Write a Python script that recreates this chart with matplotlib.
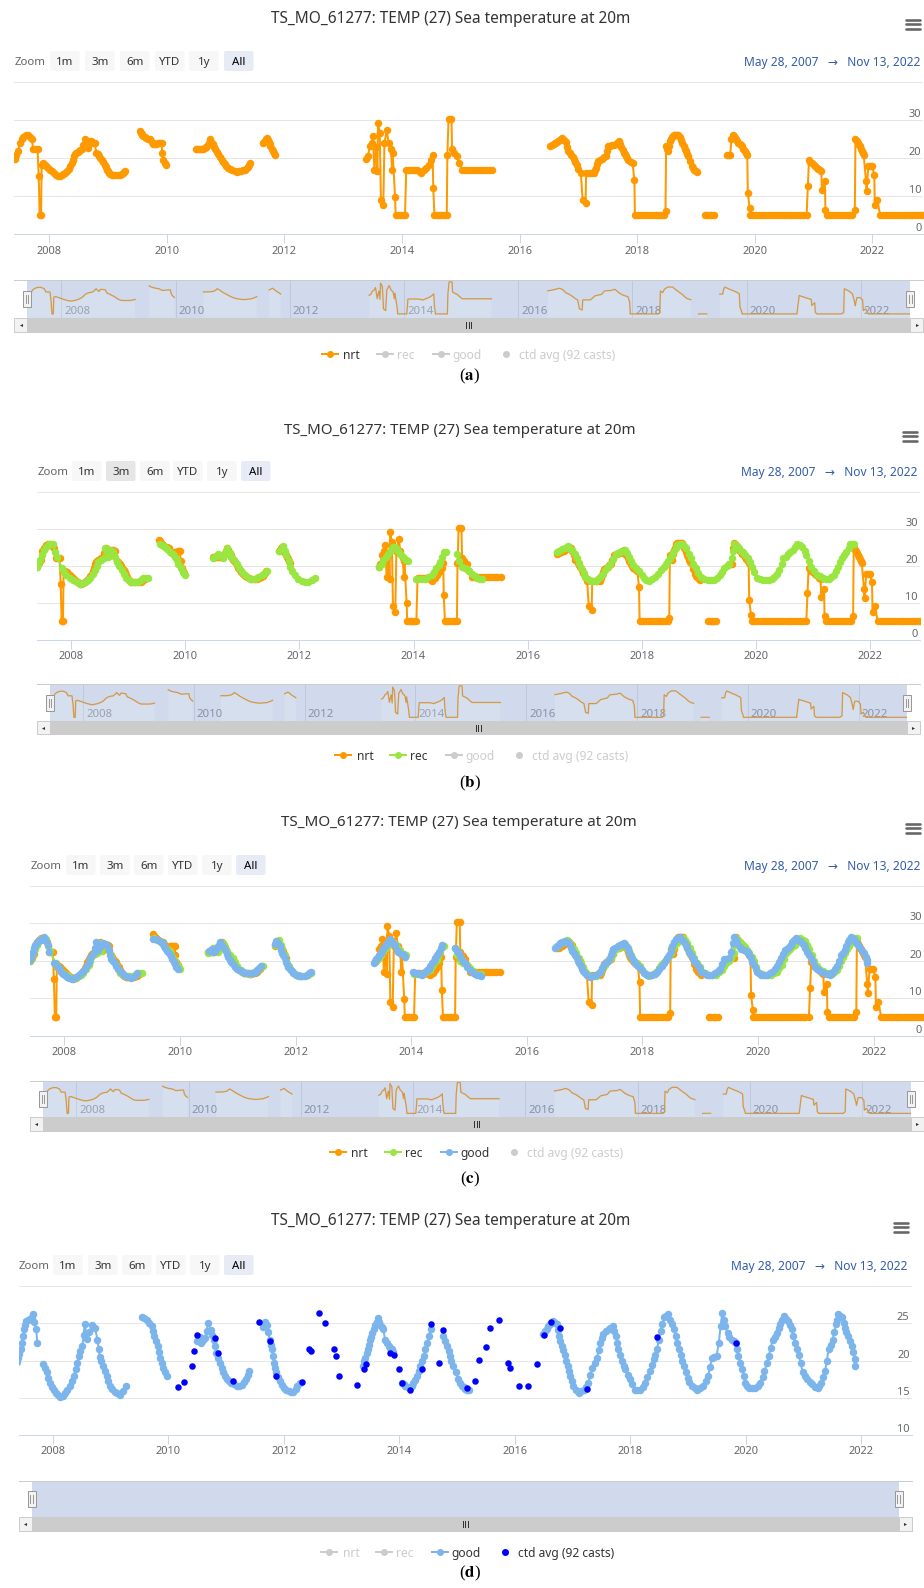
import matplotlib
matplotlib.use('Agg')
import numpy as np
from matplotlib import pyplot as plt
from matplotlib import transforms
from matplotlib.patches import Rectangle, FancyBboxPatch

W, H = 924, 1588
plt.rcParams['font.family'] = ['Noto Sans', 'DejaVu Sans']
plt.rcParams['mathtext.fontset'] = 'stix'

START = 2007.403   # May 28, 2007
END = 2022.866     # Nov 13, 2022
YEARS = [2008, 2010, 2012, 2014, 2016, 2018, 2020, 2022]
TITLE = 'TS_MO_61277: TEMP (27) Sea temperature at 20m'
DATE_RANGE = 'May 28, 2007   \u2192   Nov 13, 2022'
BUTTONS = ['1m', '3m', '6m', 'YTD', '1y', 'All']

# ---- series (decimal year, deg C) ----
nrt_2007 = [(2007.41, 19.8), (2007.44, 20.8), (2007.47, 21.8), (2007.50, 24.0), (2007.53, 25.0),
            (2007.56, 25.6), (2007.60, 26.0), (2007.64, 26.0), (2007.67, 25.5), (2007.70, 24.9),
            (2007.73, 22.3), (2007.77, 22.3), (2007.80, 22.3), (2007.82, 15.2), (2007.836, 5.1),
            (2007.86, 5.1), (2007.87, 18.3), (2007.90, 18.7), (2007.93, 18.3), (2007.95, 18.0),
            (2007.98, 17.5), (2008.01, 17.0), (2008.05, 16.5), (2008.08, 16.0), (2008.12, 15.6),
            (2008.15, 15.2), (2008.18, 15.3), (2008.21, 15.5), (2008.24, 15.8), (2008.27, 16.1),
            (2008.30, 16.6), (2008.33, 17.2), (2008.36, 18.0), (2008.38, 18.7), (2008.40, 19.6),
            (2008.42, 20.5), (2008.44, 21.0), (2008.46, 21.4), (2008.48, 21.7), (2008.50, 22.0),
            (2008.53, 22.1), (2008.55, 22.3), (2008.58, 23.5), (2008.61, 24.9), (2008.63, 23.8),
            (2008.66, 22.7), (2008.69, 24.5), (2008.71, 24.4), (2008.73, 24.3), (2008.75, 24.1),
            (2008.77, 24.0), (2008.80, 21.4), (2008.83, 21.0), (2008.85, 20.5), (2008.87, 20.0),
            (2008.89, 19.6), (2008.92, 18.9), (2008.94, 18.3), (2008.96, 17.6), (2008.98, 17.0),
            (2009.00, 16.6), (2009.02, 16.2), (2009.04, 15.9), (2009.06, 15.7), (2009.09, 15.7),
            (2009.12, 15.7), (2009.16, 15.7), (2009.20, 15.7), (2009.23, 15.8), (2009.25, 16.0),
            (2009.27, 16.3), (2009.29, 16.5)]
nrt_2009 = [(2009.54, 27.1), (2009.555, 26.7), (2009.57, 26.4), (2009.585, 26.1), (2009.60, 25.9),
            (2009.62, 25.6), (2009.65, 25.3), (2009.68, 25.1), (2009.71, 24.9), (2009.74, 24.2),
            (2009.77, 23.6), (2009.80, 23.7), (2009.82, 23.8), (2009.85, 23.9), (2009.87, 24.0),
            (2009.89, 24.0), (2009.91, 24.0), (2009.92, 21.4), (2009.94, 19.6), (2009.96, 18.8),
            (2009.98, 18.1)]
nrt_2010 = [(2010.49, 22.4), (2010.515, 22.4), (2010.54, 22.4), (2010.565, 22.4), (2010.59, 22.4),
            (2010.615, 22.5), (2010.64, 22.7), (2010.66, 22.9), (2010.68, 23.1), (2010.71, 24.0),
            (2010.73, 24.9), (2010.755, 24.3), (2010.78, 23.6), (2010.80, 22.9), (2010.82, 22.3),
            (2010.845, 21.6), (2010.87, 21.0), (2010.90, 20.3), (2010.93, 19.6), (2010.955, 19.0),
            (2010.98, 18.4), (2011.01, 17.9), (2011.04, 17.4), (2011.075, 17.1), (2011.11, 16.8),
            (2011.15, 16.6), (2011.19, 16.4), (2011.225, 16.5), (2011.26, 16.6), (2011.295, 16.8),
            (2011.33, 17.0), (2011.355, 17.4), (2011.38, 17.8), (2011.40, 18.2), (2011.42, 18.7)]
nrt_2011 = [(2011.64, 24.0), (2011.655, 24.3), (2011.67, 24.6), (2011.685, 25.0), (2011.70, 25.3),
            (2011.715, 24.8), (2011.73, 24.2), (2011.745, 23.6), (2011.76, 23.1), (2011.78, 22.5),
            (2011.80, 21.9), (2011.82, 21.3), (2011.84, 20.8)]
nrt_2013 = [(2013.39, 19.8), (2013.42, 20.5), (2013.45, 23.1), (2013.48, 24.0), (2013.50, 25.8),
            (2013.53, 17.0), (2013.56, 23.0), (2013.58, 16.5), (2013.59, 29.3), (2013.62, 26.6),
            (2013.64, 9.1), (2013.68, 7.7), (2013.70, 24.0), (2013.74, 27.3), (2013.77, 24.0),
            (2013.81, 22.3), (2013.83, 17.0), (2013.84, 21.4), (2013.88, 9.9), (2013.89, 5.1),
            (2013.93, 5.1), (2013.97, 5.1), (2014.01, 5.1), (2014.05, 5.1), (2014.07, 16.8),
            (2014.11, 16.8), (2014.16, 16.8), (2014.20, 16.8), (2014.25, 16.8), (2014.29, 16.5),
            (2014.33, 16.1), (2014.37, 16.8), (2014.41, 17.5), (2014.45, 18.3), (2014.49, 19.5),
            (2014.52, 20.9), (2014.53, 12.1), (2014.55, 5.1), (2014.59, 5.1), (2014.63, 5.1),
            (2014.67, 5.1), (2014.72, 5.1), (2014.76, 5.1), (2014.77, 20.9), (2014.79, 30.2),
            (2014.84, 30.2), (2014.85, 22.3), (2014.89, 21.3), (2014.93, 20.5), (2014.97, 18.8),
            (2015.02, 17.0), (2015.07, 17.0), (2015.12, 17.0), (2015.17, 17.0), (2015.22, 17.0),
            (2015.27, 17.0), (2015.32, 17.0), (2015.37, 17.0), (2015.42, 17.0), (2015.47, 17.0),
            (2015.53, 17.0)]
nrt_2016 = [(2016.52, 23.3), (2016.55, 23.5), (2016.58, 23.8), (2016.605, 24.0), (2016.63, 24.2),
            (2016.655, 24.5), (2016.68, 24.8), (2016.70, 25.1), (2016.72, 25.3), (2016.75, 24.8),
            (2016.78, 24.2), (2016.805, 23.0), (2016.83, 21.8), (2016.855, 21.3), (2016.88, 20.8),
            (2016.90, 20.3), (2016.92, 19.8), (2016.945, 18.9), (2016.97, 18.1), (2017.00, 17.1),
            (2017.04, 16.1), (2017.07, 9.1), (2017.12, 8.2), (2017.13, 16.1), (2017.18, 16.1),
            (2017.22, 16.1), (2017.26, 16.1), (2017.28, 16.8), (2017.30, 17.5), (2017.32, 18.4),
            (2017.34, 19.2), (2017.37, 19.6), (2017.40, 19.9), (2017.43, 20.2), (2017.46, 20.5),
            (2017.485, 21.8), (2017.51, 23.1), (2017.54, 23.3), (2017.57, 23.4), (2017.60, 23.5),
            (2017.63, 23.6), (2017.66, 24.0), (2017.69, 24.5), (2017.71, 23.8), (2017.73, 23.0),
            (2017.75, 22.2), (2017.77, 21.4), (2017.79, 21.0), (2017.81, 20.5), (2017.83, 20.0),
            (2017.85, 19.6), (2017.885, 19.1), (2017.92, 18.7), (2017.95, 14.3), (2017.96, 5.1),
            (2018.01, 5.1), (2018.06, 5.1), (2018.11, 5.1), (2018.16, 5.1), (2018.21, 5.1),
            (2018.26, 5.1), (2018.31, 5.1), (2018.36, 5.1), (2018.41, 5.1), (2018.45, 5.1),
            (2018.48, 6.0), (2018.49, 23.1), (2018.51, 22.4), (2018.53, 21.8), (2018.545, 23.2),
            (2018.56, 24.5), (2018.575, 25.0), (2018.59, 25.5), (2018.605, 25.9), (2018.62, 26.2),
            (2018.64, 26.2), (2018.66, 26.2), (2018.68, 26.2), (2018.70, 26.2), (2018.72, 25.5),
            (2018.74, 24.8), (2018.765, 23.9), (2018.79, 23.1), (2018.81, 22.4), (2018.83, 21.8),
            (2018.85, 21.1), (2018.87, 20.5), (2018.90, 19.2), (2018.93, 17.9), (2018.95, 17.4),
            (2018.97, 17.0), (2019.00, 16.6), (2019.02, 16.3)]
nrt_2019 = [(2019.16, 5.1), (2019.19, 5.1), (2019.23, 5.1), (2019.26, 5.1), (2019.30, 5.1)]
nrt_2020 = [(2019.53, 20.7), (2019.555, 20.7), (2019.58, 20.7), (2019.60, 24.9), (2019.62, 26.2),
            (2019.64, 25.7), (2019.66, 25.3), (2019.68, 24.9), (2019.70, 24.5), (2019.72, 24.1),
            (2019.74, 23.8), (2019.76, 23.4), (2019.78, 23.1), (2019.805, 22.5), (2019.83, 22.0),
            (2019.85, 21.4), (2019.87, 20.9), (2019.88, 10.8), (2019.91, 6.9), (2019.92, 5.1),
            (2019.97, 5.1), (2020.02, 5.1), (2020.07, 5.1), (2020.12, 5.1), (2020.17, 5.1),
            (2020.22, 5.1), (2020.27, 5.1), (2020.32, 5.1), (2020.37, 5.1), (2020.42, 5.1),
            (2020.47, 5.1), (2020.52, 5.1), (2020.57, 5.1), (2020.62, 5.1), (2020.67, 5.1),
            (2020.72, 5.1), (2020.77, 5.1), (2020.82, 5.1), (2020.88, 5.1), (2020.90, 12.6),
            (2020.92, 19.6), (2020.945, 19.1), (2020.97, 18.7), (2021.00, 18.3), (2021.03, 17.9),
            (2021.055, 17.5), (2021.08, 17.2), (2021.105, 16.8), (2021.13, 16.5), (2021.14, 11.7),
            (2021.19, 13.9), (2021.20, 6.4), (2021.23, 5.1), (2021.28, 5.1), (2021.33, 5.1),
            (2021.38, 5.1), (2021.43, 5.1), (2021.48, 5.1), (2021.53, 5.1), (2021.58, 5.1),
            (2021.62, 5.1), (2021.66, 5.1), (2021.70, 6.4), (2021.71, 24.9), (2021.73, 24.4),
            (2021.75, 24.0), (2021.77, 23.5), (2021.79, 23.1), (2021.805, 22.5), (2021.82, 22.0),
            (2021.835, 21.4), (2021.85, 20.9), (2021.89, 13.9), (2021.90, 11.5), (2021.93, 17.9),
            (2021.96, 17.9), (2021.99, 17.9), (2022.03, 15.7), (2022.04, 7.7), (2022.08, 9.1),
            (2022.13, 5.1), (2022.18, 5.1), (2022.23, 5.1), (2022.28, 5.1), (2022.33, 5.1),
            (2022.38, 5.1), (2022.43, 5.1), (2022.48, 5.1), (2022.53, 5.1), (2022.58, 5.1),
            (2022.63, 5.1), (2022.68, 5.1), (2022.73, 5.1), (2022.78, 5.1), (2022.83, 5.1),
            (2022.866, 5.1)]

rec_2007 = [(2007.40, 19.8), (2007.43, 20.6), (2007.46, 21.6), (2007.49, 23.0), (2007.52, 24.3),
            (2007.56, 25.2), (2007.60, 25.7), (2007.64, 25.9), (2007.68, 25.9), (2007.72, 23.9),
            (2007.75, 22.5), (2007.85, 19.4), (2007.88, 18.5), (2007.92, 17.6), (2007.98, 16.8),
            (2008.04, 16.2), (2008.10, 15.6), (2008.16, 15.3), (2008.21, 15.5), (2008.25, 15.8),
            (2008.29, 16.2), (2008.33, 16.7), (2008.38, 17.8), (2008.42, 18.9), (2008.45, 20.0),
            (2008.48, 21.2), (2008.53, 21.8), (2008.57, 22.1), (2008.60, 24.8), (2008.64, 22.5),
            (2008.68, 24.3), (2008.71, 24.2), (2008.74, 23.9), (2008.77, 22.6), (2008.80, 21.2),
            (2008.84, 20.0), (2008.89, 18.9), (2008.93, 17.8), (2008.97, 16.7), (2009.02, 16.2),
            (2009.06, 15.8), (2009.12, 15.8), (2009.18, 15.8), (2009.23, 16.2), (2009.27, 16.7),
            (2009.31, 16.8), (2009.35, 16.8)]
rec_2009 = [(2009.56, 26.1), (2009.60, 25.6), (2009.65, 25.2), (2009.69, 24.6), (2009.73, 23.9),
            (2009.78, 23.2), (2009.82, 22.5), (2009.85, 21.6), (2009.88, 20.7), (2009.92, 19.6),
            (2009.96, 18.5), (2010.00, 17.7)]
rec_2010 = [(2010.49, 22.1), (2010.54, 22.8), (2010.58, 23.4), (2010.62, 22.8), (2010.66, 22.3),
            (2010.70, 23.6), (2010.74, 24.8), (2010.78, 23.6), (2010.81, 22.5), (2010.86, 21.6),
            (2010.91, 20.7), (2010.95, 19.6), (2010.99, 18.5), (2011.05, 17.6), (2011.11, 16.8),
            (2011.16, 16.6), (2011.22, 16.5), (2011.28, 17.0), (2011.34, 17.6), (2011.39, 18.1),
            (2011.43, 18.7)]
rec_2011 = [(2011.65, 24.1), (2011.69, 24.8), (2011.72, 25.4), (2011.75, 24.2), (2011.77, 23.0),
            (2011.81, 21.4), (2011.84, 19.8), (2011.88, 18.7), (2011.92, 17.6), (2011.98, 16.6),
            (2012.04, 15.9), (2012.10, 15.8), (2012.16, 15.8), (2012.22, 16.2), (2012.27, 16.7)]
rec_2013 = [(2013.40, 19.8), (2013.44, 20.7), (2013.47, 21.6), (2013.52, 22.5), (2013.56, 23.4),
            (2013.60, 24.3), (2013.64, 25.2), (2013.67, 25.0), (2013.70, 24.8), (2013.73, 24.1),
            (2013.76, 23.4), (2013.80, 22.8), (2013.83, 22.1), (2013.87, 21.8), (2013.91, 21.4)]
rec_2014 = [(2014.05, 16.5), (2014.10, 16.5), (2014.15, 16.5), (2014.20, 16.5), (2014.26, 17.0),
            (2014.32, 17.6), (2014.36, 18.5), (2014.40, 19.4), (2014.44, 20.3), (2014.47, 21.2),
            (2014.50, 22.4), (2014.53, 23.7), (2014.56, 23.9)]
rec_2015 = [(2014.76, 23.4), (2014.80, 21.5), (2014.85, 19.8), (2014.90, 19.5), (2014.94, 19.2),
            (2014.98, 18.6), (2015.02, 18.0), (2015.07, 17.3), (2015.11, 16.7), (2015.16, 16.5),
            (2015.20, 16.4)]
rec_2016 = [(2016.51, 23.7), (2016.55, 24.2), (2016.60, 24.6), (2016.65, 25.0), (2016.70, 25.5),
            (2016.73, 24.9), (2016.77, 24.3), (2016.82, 23.2), (2016.86, 22.1), (2016.90, 20.8),
            (2016.94, 19.4), (2016.98, 18.2), (2017.01, 17.1), (2017.05, 16.5), (2017.10, 16.0),
            (2017.15, 16.0), (2017.19, 16.0), (2017.23, 16.5), (2017.27, 17.1), (2017.32, 18.0),
            (2017.36, 18.9), (2017.40, 19.8), (2017.45, 20.7), (2017.50, 22.0), (2017.54, 23.2),
            (2017.58, 23.5), (2017.62, 23.7), (2017.66, 24.1), (2017.70, 24.5), (2017.74, 23.5),
            (2017.77, 22.5), (2017.81, 21.4), (2017.84, 20.3), (2017.90, 19.4), (2017.95, 18.6),
            (2018.00, 17.6), (2018.04, 16.7), (2018.08, 16.3), (2018.12, 16.0), (2018.18, 16.5),
            (2018.23, 17.1), (2018.28, 18.0), (2018.33, 18.9), (2018.38, 19.7), (2018.42, 20.5),
            (2018.46, 21.3), (2018.49, 22.1), (2018.52, 23.0), (2018.55, 23.9), (2018.59, 24.8),
            (2018.62, 25.7), (2018.66, 25.9), (2018.70, 26.1), (2018.74, 25.4), (2018.77, 24.8),
            (2018.82, 23.4), (2018.86, 22.1), (2018.90, 20.7), (2018.94, 19.4), (2018.99, 18.2),
            (2019.03, 17.1), (2019.09, 16.6), (2019.15, 16.2), (2019.21, 16.2), (2019.27, 16.2),
            (2019.32, 16.9), (2019.37, 17.6), (2019.41, 18.5), (2019.44, 19.4), (2019.49, 20.0),
            (2019.53, 20.7), (2019.58, 22.1), (2019.60, 24.1), (2019.62, 26.1), (2019.66, 25.4),
            (2019.70, 24.8), (2019.74, 24.2), (2019.77, 23.7), (2019.81, 22.9), (2019.85, 22.1),
            (2019.89, 21.0), (2019.93, 19.8), (2019.97, 18.3), (2020.01, 16.8), (2020.07, 16.5),
            (2020.12, 16.2), (2020.18, 16.2), (2020.23, 16.2), (2020.28, 16.6), (2020.32, 17.1),
            (2020.37, 18.0), (2020.41, 18.9), (2020.45, 20.5), (2020.48, 22.1), (2020.52, 22.6),
            (2020.56, 23.2), (2020.60, 23.8), (2020.64, 24.3), (2020.68, 25.2), (2020.72, 26.1),
            (2020.77, 25.6), (2020.81, 25.2), (2020.85, 24.1), (2020.88, 23.0), (2020.93, 21.4),
            (2020.97, 19.8), (2021.02, 18.7), (2021.06, 17.7), (2021.12, 17.2), (2021.18, 16.7),
            (2021.23, 16.6), (2021.28, 16.5), (2021.32, 17.0), (2021.36, 17.6), (2021.40, 18.7),
            (2021.44, 19.8), (2021.47, 21.0), (2021.50, 22.1), (2021.54, 23.0), (2021.58, 23.9),
            (2021.62, 25.0), (2021.65, 26.1), (2021.68, 26.1), (2021.71, 26.1)]

good_2007 = [(2007.38, 19.8), (2007.40, 20.3), (2007.42, 20.9), (2007.44, 21.6), (2007.46, 22.4),
             (2007.48, 23.3), (2007.50, 24.2), (2007.52, 24.8), (2007.54, 25.3), (2007.57, 25.5),
             (2007.60, 25.6), (2007.63, 25.9), (2007.65, 26.2), (2007.68, 25.2), (2007.71, 24.2),
             (2007.73, 22.3)]
good_2008 = [(2007.83, 19.5), (2007.86, 19.0), (2007.89, 18.4), (2007.92, 17.7), (2007.95, 17.0),
             (2007.98, 16.5), (2008.01, 16.1), (2008.05, 15.7), (2008.08, 15.4), (2008.13, 15.1),
             (2008.17, 15.3), (2008.21, 15.7), (2008.25, 16.1), (2008.29, 16.6), (2008.33, 17.2),
             (2008.36, 17.9), (2008.39, 18.8), (2008.42, 19.7), (2008.45, 20.6), (2008.47, 21.3),
             (2008.51, 22.0), (2008.53, 23.4), (2008.55, 24.9), (2008.59, 22.9), (2008.63, 23.8),
             (2008.67, 24.7), (2008.70, 24.5), (2008.73, 24.3), (2008.77, 22.8), (2008.79, 21.6),
             (2008.81, 20.5), (2008.84, 19.9), (2008.87, 19.3), (2008.90, 18.6), (2008.93, 17.9),
             (2008.96, 17.2), (2008.99, 16.6), (2009.03, 16.2), (2009.07, 15.8), (2009.11, 15.6),
             (2009.16, 15.4), (2009.22, 15.9), (2009.26, 16.6)]
good_2009 = [(2009.54, 25.9), (2009.58, 25.7), (2009.62, 25.5), (2009.67, 25.0), (2009.71, 24.6),
             (2009.73, 24.0), (2009.75, 23.3), (2009.78, 22.6), (2009.81, 22.0), (2009.84, 21.2),
             (2009.86, 20.4), (2009.89, 19.7), (2009.91, 19.0), (2009.94, 18.4), (2009.97, 17.9)]
good_2010 = [(2010.50, 22.6), (2010.55, 23.2), (2010.57, 22.3), (2010.60, 22.7), (2010.63, 23.0),
             (2010.66, 24.0), (2010.69, 25.1), (2010.73, 24.1), (2010.76, 23.4), (2010.78, 22.8),
             (2010.81, 21.9), (2010.83, 21.0), (2010.86, 20.3), (2010.89, 19.7), (2010.92, 19.0),
             (2010.95, 18.4), (2010.98, 17.9), (2011.02, 17.5), (2011.05, 17.2), (2011.09, 17.0),
             (2011.13, 16.8), (2011.18, 16.6), (2011.22, 16.6), (2011.27, 16.7), (2011.31, 17.1),
             (2011.34, 17.5), (2011.37, 18.0), (2011.40, 18.6)]
good_2011 = [(2011.64, 24.5), (2011.67, 25.2), (2011.70, 24.8), (2011.73, 23.8), (2011.75, 22.8),
             (2011.77, 22.1), (2011.79, 21.5), (2011.81, 20.6), (2011.83, 19.7), (2011.85, 19.0),
             (2011.87, 18.4), (2011.90, 17.8), (2011.93, 17.2), (2011.96, 16.7), (2012.00, 16.3),
             (2012.04, 16.1), (2012.08, 15.9), (2012.12, 15.8), (2012.16, 15.8), (2012.20, 16.2),
             (2012.23, 16.6), (2012.27, 17.0)]
good_2013 = [(2013.36, 19.3), (2013.38, 19.9), (2013.40, 20.4), (2013.43, 21.0), (2013.45, 21.5),
             (2013.47, 22.1), (2013.49, 22.8), (2013.51, 23.2), (2013.53, 23.7), (2013.56, 24.2),
             (2013.58, 24.8), (2013.61, 25.2), (2013.63, 25.7), (2013.65, 25.2), (2013.67, 24.8),
             (2013.70, 24.5), (2013.72, 24.2), (2013.75, 22.8), (2013.78, 22.4), (2013.81, 22.0),
             (2013.84, 21.7), (2013.87, 21.5), (2013.89, 21.1)]
good_2014 = [(2014.04, 17.0), (2014.07, 16.8), (2014.10, 16.6), (2014.14, 16.4), (2014.18, 16.3),
             (2014.21, 16.6), (2014.24, 17.0), (2014.27, 17.4), (2014.30, 17.9), (2014.33, 18.6),
             (2014.36, 19.3), (2014.39, 20.0), (2014.42, 20.6), (2014.45, 21.5), (2014.48, 22.4),
             (2014.51, 23.3), (2014.54, 24.2)]
good_2015 = [(2014.76, 23.3), (2014.79, 22.6), (2014.82, 22.0), (2014.85, 21.3), (2014.87, 20.6),
             (2014.90, 19.9), (2014.93, 19.3), (2014.97, 18.4), (2015.02, 17.5), (2015.05, 17.0),
             (2015.08, 16.6), (2015.11, 16.4), (2015.14, 16.2), (2015.17, 16.1), (2015.20, 16.0)]
good_2016 = [(2016.49, 23.5), (2016.52, 23.9), (2016.55, 24.2), (2016.58, 24.6), (2016.61, 24.9),
             (2016.63, 25.1), (2016.66, 25.3), (2016.69, 25.1), (2016.72, 24.9), (2016.74, 24.1),
             (2016.76, 23.3), (2016.78, 22.6), (2016.81, 22.0), (2016.84, 21.4), (2016.87, 20.8),
             (2016.89, 20.0), (2016.91, 19.3), (2016.93, 18.6), (2016.95, 17.9), (2016.98, 17.2),
             (2017.01, 16.6), (2017.05, 16.1), (2017.10, 15.7), (2017.14, 15.9), (2017.19, 16.1),
             (2017.23, 16.5), (2017.27, 17.0), (2017.30, 18.0), (2017.34, 19.0), (2017.38, 19.7),
             (2017.42, 20.4), (2017.45, 21.4), (2017.48, 22.4), (2017.50, 23.0), (2017.53, 23.5),
             (2017.57, 23.9), (2017.62, 24.2), (2017.65, 24.4), (2017.69, 24.6), (2017.72, 24.0),
             (2017.75, 23.3), (2017.77, 22.4), (2017.79, 21.5), (2017.82, 20.7), (2017.85, 19.9),
             (2017.88, 19.3), (2017.91, 18.8), (2017.95, 18.1), (2017.99, 17.5), (2018.03, 16.8),
             (2018.08, 16.1), (2018.12, 16.1), (2018.17, 16.1), (2018.21, 16.5), (2018.25, 17.0),
             (2018.29, 17.8), (2018.34, 18.6), (2018.37, 19.4), (2018.40, 20.2), (2018.43, 20.8),
             (2018.46, 21.5), (2018.49, 22.7), (2018.52, 24.0), (2018.55, 24.9), (2018.58, 25.8),
             (2018.62, 26.0), (2018.65, 26.2), (2018.69, 25.5), (2018.72, 24.9), (2018.75, 24.2),
             (2018.78, 23.3), (2018.81, 22.4), (2018.84, 21.6), (2018.87, 20.8), (2018.90, 20.0),
             (2018.93, 19.3), (2018.96, 18.5), (2018.99, 17.7), (2019.02, 17.1), (2019.06, 16.6),
             (2019.11, 16.3), (2019.16, 16.1), (2019.21, 16.3), (2019.25, 16.6), (2019.30, 17.2),
             (2019.34, 17.9), (2019.38, 19.1), (2019.41, 20.4), (2019.45, 20.5), (2019.49, 20.6),
             (2019.53, 22.4), (2019.56, 24.6), (2019.59, 26.4), (2019.62, 25.5), (2019.64, 24.6),
             (2019.68, 23.7), (2019.71, 23.2), (2019.75, 22.8), (2019.79, 22.6), (2019.82, 22.4),
             (2019.85, 21.5), (2019.87, 20.6), (2019.90, 19.7), (2019.93, 18.8), (2019.96, 17.9),
             (2019.99, 17.0), (2020.02, 16.6), (2020.06, 16.3), (2020.11, 16.3), (2020.16, 16.3),
             (2020.21, 16.6), (2020.25, 17.0), (2020.29, 17.8), (2020.32, 18.6), (2020.36, 19.6),
             (2020.39, 20.6), (2020.43, 21.7), (2020.46, 22.8), (2020.50, 23.2), (2020.54, 23.7),
             (2020.57, 24.3), (2020.59, 24.9), (2020.62, 25.5), (2020.65, 26.0), (2020.69, 25.6),
             (2020.72, 25.3), (2020.76, 24.7), (2020.79, 24.2), (2020.82, 23.3), (2020.85, 22.4),
             (2020.88, 21.6), (2020.91, 20.8), (2020.95, 19.6), (2020.98, 18.4), (2021.02, 17.9),
             (2021.05, 17.5), (2021.10, 17.1), (2021.14, 16.8), (2021.19, 16.5), (2021.24, 16.3),
             (2021.27, 16.6), (2021.30, 17.0), (2021.34, 17.8), (2021.37, 18.6), (2021.40, 20.0),
             (2021.43, 21.5), (2021.47, 22.1), (2021.50, 22.8), (2021.53, 23.8), (2021.56, 24.9),
             (2021.58, 25.5), (2021.60, 26.2), (2021.63, 26.0), (2021.66, 25.9), (2021.69, 25.1),
             (2021.71, 24.4), (2021.74, 23.8), (2021.77, 23.3), (2021.80, 22.6), (2021.83, 22.0),
             (2021.86, 21.1), (2021.88, 20.2), (2021.89, 19.3)]

ctd_year = [2010.17, 2010.27, 2010.40, 2010.45, 2010.50, 2010.81, 2010.86, 2011.12, 2011.56,
            2011.76, 2011.87, 2012.31, 2012.44, 2012.46, 2012.61, 2012.71, 2012.87, 2012.90,
            2012.96, 2013.27, 2013.38, 2013.42, 2013.83, 2013.91, 2014.00, 2014.04, 2014.18,
            2014.39, 2014.55, 2014.68, 2014.75, 2015.17, 2015.30, 2015.38, 2015.50, 2015.56,
            2015.72, 2015.88, 2015.92, 2016.07, 2016.22, 2016.38, 2016.51, 2016.62, 2016.78,
            2017.25, 2018.46, 2019.82]
ctd_temp = [16.4, 17.1, 19.3, 21.3, 23.4, 23.0, 21.0, 17.2, 25.2,
            22.6, 17.9, 17.1, 21.6, 21.3, 26.4, 25.0, 21.5, 20.6,
            17.9, 16.7, 18.8, 19.5, 21.0, 20.8, 18.8, 17.0, 16.1,
            18.8, 24.9, 19.6, 24.1, 16.3, 17.2, 20.1, 21.8, 24.4,
            25.5, 19.7, 19.0, 16.6, 16.6, 19.5, 23.4, 25.2, 24.4,
            16.2, 23.1, 22.4]

NRT = [nrt_2007, nrt_2009, nrt_2010, nrt_2011, nrt_2013, nrt_2016, nrt_2019, nrt_2020]
REC = [rec_2007, rec_2009, rec_2010, rec_2011, rec_2013, rec_2014, rec_2015, rec_2016]
GOOD = [good_2007, good_2008, good_2009, good_2010, good_2011, good_2013, good_2014,
        good_2015, good_2016]

C_NRT, C_REC, C_GOOD, C_CTD = '#ff9900', '#99e640', '#7cb5ec', '#0000ff'
C_OFF = '#cccccc'
LEGEND = [('nrt', C_NRT, 'line'), ('rec', C_REC, 'line'),
          ('good', C_GOOD, 'line'), ('ctd avg (92 casts)', C_CTD, 'dot')]
LEGEND_X = [(330, 343.5), (384.5, 397), (440.5, 452.6), (505.6, 518.6)]


def joined(segments):
    xs, ys = [], []
    for seg in segments:
        t, v = zip(*seg)
        xs += list(t) + [np.nan]
        ys += list(v) + [np.nan]
    return np.array(xs), np.array(ys)


def px(v):
    return v * 0.72


fig = plt.figure(figsize=(W / 100, H / 100), dpi=100)


def add_px_axes(x0, y0, x1, y1, **kw):
    return fig.add_axes([x0 / W, 1 - y1 / H, (x1 - x0) / W, (y1 - y0) / H], **kw)


ov = fig.add_axes([0, 0, 1, 1], zorder=10)
ov.set_xlim(0, W)
ov.set_ylim(H, 0)
ov.axis('off')
ov.patch.set_alpha(0)

panels = [
    dict(tag='a', title_cx=451, title_y=19, title_fs=15.4, menu=(913, 24), zoom_y=61, zoom_x=15,
         btn_x=[50, 85, 120, 155, 189, 224], pressed=None, date_r=920,
         x0=14.2, x1=923.4, top=82, bot=234.3, ylim=(0, 40), grid=[0, 10, 20, 30, 40],
         ylab=[0, 10, 20, 30], nav=(280, 317.7, 331.7), leg_y=353.7, leg_dx=0, cap_y=376.7,
         shown=('nrt',), nav_series=True),
    dict(tag='b', title_cx=460, title_y=430, title_fs=15.0, menu=(910, 436), zoom_y=471, zoom_x=38,
         btn_x=[72, 106, 140, 173, 207, 241], pressed=1, date_r=917,
         x0=36.9, x1=919.7, top=492.3, bot=640, ylim=(0, 40), grid=[0, 10, 20, 30, 40],
         ylab=[0, 10, 20, 30], nav=(684, 721, 734), leg_y=755, leg_dx=13, cap_y=783,
         shown=('nrt', 'rec'), nav_series=True),
    dict(tag='c', title_cx=458.5, title_y=822, title_fs=15.2, menu=(913, 828), zoom_y=865, zoom_x=31,
         btn_x=[66, 100, 134, 168, 202, 236], pressed=None, date_r=920,
         x0=29.8, x1=923.7, top=885.7, bot=1035.7, ylim=(0, 40), grid=[0, 10, 20, 30, 40],
         ylab=[0, 10, 20, 30], nav=(1080.5, 1117, 1131), leg_y=1152, leg_dx=8, cap_y=1179.5,
         shown=('nrt', 'rec', 'good'), nav_series=True),
    dict(tag='d', title_cx=451, title_y=1221, title_fs=15.4, menu=(901, 1227), zoom_y=1265, zoom_x=19,
         btn_x=[53, 88, 122, 156, 190, 224], pressed=None, date_r=907,
         x0=18.5, x1=911.5, top=1286, bot=1435, ylim=(10, 30), grid=[10, 15, 20, 25, 30],
         ylab=[10, 15, 20, 25], nav=(1481, 1516.7, 1530.7), leg_y=1552, leg_dx=-1, cap_y=1573,
         shown=('good', 'ctd avg (92 casts)'), nav_series=False),
]


def draw_header(p):
    ov.text(p['title_cx'], p['title_y'], TITLE, ha='center', va='center',
            color='#333333', fontsize=px(p['title_fs']))
    mx, my = p['menu']
    for dy in (-4.5, 0, 4.5):
        ov.plot([mx - 7, mx + 7], [my + dy, my + dy], color='#666666', lw=px(2.6),
                solid_capstyle='round')
    y = p['zoom_y']
    ov.text(p['zoom_x'], y, 'Zoom', ha='left', va='center_baseline', color='#666666',
            fontsize=px(11.5))
    for i, (bx, lab) in enumerate(zip(p['btn_x'], BUTTONS)):
        fc = '#f7f7f7'
        if lab == 'All':
            fc = '#e6ebf5'
        elif p['pressed'] == i:
            fc = '#e6e6e6'
        ov.add_patch(FancyBboxPatch((bx, y - 10), 29.5, 20,
                                    boxstyle='round,pad=0,rounding_size=2', fc=fc, ec='none'))
        ov.text(bx + 14.75, y, lab, ha='center', va='center_baseline', fontsize=px(11.5),
                color='#000000' if lab == 'All' else '#333333',
                fontweight='bold' if lab == 'All' else 'normal')
    ov.text(p['date_r'], y, DATE_RANGE, ha='right', va='center_baseline', color='#335cad',
            fontsize=px(12))


def draw_main(p):
    ax = add_px_axes(p['x0'], p['top'], p['x1'], p['bot'])
    ax.set_xlim(START, END)
    ax.set_ylim(*p['ylim'])
    for side in ('top', 'left', 'right'):
        ax.spines[side].set_visible(False)
    ax.spines['bottom'].set_color('#ccd6eb')
    ax.spines['bottom'].set_linewidth(px(1))
    ax.set_yticks(p['grid'])
    ax.yaxis.grid(True, color='#e6e6e6', lw=px(1))
    ax.set_axisbelow(True)
    ax.tick_params(axis='y', length=0, labelleft=False)
    ax.set_xticks(YEARS)
    ax.set_xticklabels([str(y) for y in YEARS])
    ax.tick_params(axis='x', direction='out', length=px(9), width=px(1), color='#ccd6eb',
                   labelcolor='#666666', labelsize=px(11), pad=px(2.5))
    ytr = transforms.offset_copy(ax.get_yaxis_transform(), fig=fig, x=-2, y=3, units='dots')
    for v in p['ylab']:
        ax.text(1, v, str(v), transform=ytr, ha='right', va='baseline',
                color='#666666', fontsize=px(11), clip_on=False)

    style = dict(lw=px(2), ms=px(7.5), mew=0, solid_joinstyle='round')
    if 'nrt' in p['shown']:
        t, v = joined(NRT)
        ax.plot(t, v, '-o', color=C_NRT, **style)
    if 'rec' in p['shown']:
        t, v = joined(REC)
        ax.plot(t, v, '-o', color=C_REC, **style)
    if 'good' in p['shown']:
        t, v = joined(GOOD)
        ax.plot(t, v, '-o', color=C_GOOD, **style)
    if 'ctd avg (92 casts)' in p['shown']:
        ax.plot(ctd_year, ctd_temp, 'o', color=C_CTD, ms=px(6.5), mew=0)
    return ax


def draw_navigator(p):
    ny0, ny1, sy1 = p['nav']
    nx0, nx1 = p['x0'] + 13, p['x1'] - 13
    nav = add_px_axes(nx0, ny0, nx1, ny1)
    nav.set_xlim(START, END)
    nav.set_ylim(2.2, 31.8)
    nav.set_xticks([])
    nav.set_yticks([])
    for s in nav.spines.values():
        s.set_visible(False)
    if p['nav_series']:
        t, v = joined(NRT)
        for yr in YEARS:
            nav.axvline(yr, color='#e6e6e6', lw=px(1), zorder=1.5)
        nav.plot(t, v, color=C_NRT, lw=px(1.3), zorder=2)
        ltr = transforms.offset_copy(nav.get_xaxis_transform(), fig=fig, x=3, y=4, units='dots')
        for yr in YEARS:
            nav.text(yr, 0, str(yr), transform=ltr, ha='left', va='baseline',
                     color='#999999', fontsize=px(11.5), zorder=1.5)
    # selected-range mask over the whole span
    nav.axvspan(START, END, color=(102 / 255, 133 / 255, 194 / 255), alpha=0.3, lw=0, zorder=3)
    if p['nav_series']:
        nav.fill_between(t, v, 2.2, color='#ffffff', alpha=0.15, lw=0, zorder=4)

    # scrollbar
    x0, x1 = p['x0'], p['x1']
    sh = sy1 - ny1
    ov.plot([x0, x1], [ny0, ny0], color='#cccccc', lw=px(1))
    ov.add_patch(Rectangle((x0, ny1), x1 - x0, sh, fc='#f2f2f2', ec='#f2f2f2', lw=0))
    ov.add_patch(Rectangle((nx0, ny1), nx1 - nx0, sh, fc='#cccccc', ec='#cccccc', lw=px(1)))
    for bx, mk in ((x0, '<'), (x1 - 13, '>')):
        ov.add_patch(Rectangle((bx, ny1), 13, sh, fc='#f2f2f2', ec='#cccccc', lw=px(1)))
        ov.plot(bx + 6.5, ny1 + sh / 2, marker=mk, color='#333333', ms=2.2, mew=0)
    cx = (nx0 + nx1) / 2
    for dx in (-2.5, 0, 2.5):
        ov.plot([cx + dx, cx + dx], [ny1 + sh / 2 - 3, ny1 + sh / 2 + 3], color='#333333',
                lw=px(1))
    # range handles
    cy = (ny0 + ny1) / 2
    for hx in (nx0, nx1):
        ov.add_patch(Rectangle((hx - 4, cy - 8), 8, 16, fc='#f2f2f2', ec='#999999', lw=px(1)))
        for dx in (-1.2, 1.2):
            ov.plot([hx + dx, hx + dx], [cy - 4, cy + 4], color='#999999', lw=px(1))


def draw_legend(p):
    y = p['leg_y']
    for (label, color, kind), (sx, tx) in zip(LEGEND, LEGEND_X):
        on = label in p['shown']
        c = color if on else C_OFF
        sx += p['leg_dx']
        tx += p['leg_dx']
        if kind == 'line':
            ov.plot([sx - 8, sx + 8], [y, y], color=c, lw=px(2))
        ov.plot(sx, y, 'o', color=c, ms=px(7), mew=0)
        ov.text(tx, y, label, ha='left', va='center_baseline', fontsize=px(12),
                color='#333333' if on else C_OFF)


for p in panels:
    draw_header(p)
    draw_main(p)
    draw_navigator(p)
    draw_legend(p)
    ov.text(470, p['cap_y'], r'($\mathbf{%s}$)' % p['tag'], ha='center', va='center',
            fontsize=px(17), family='Liberation Serif', color='#000000')

fig.savefig('out.png', dpi=100)
